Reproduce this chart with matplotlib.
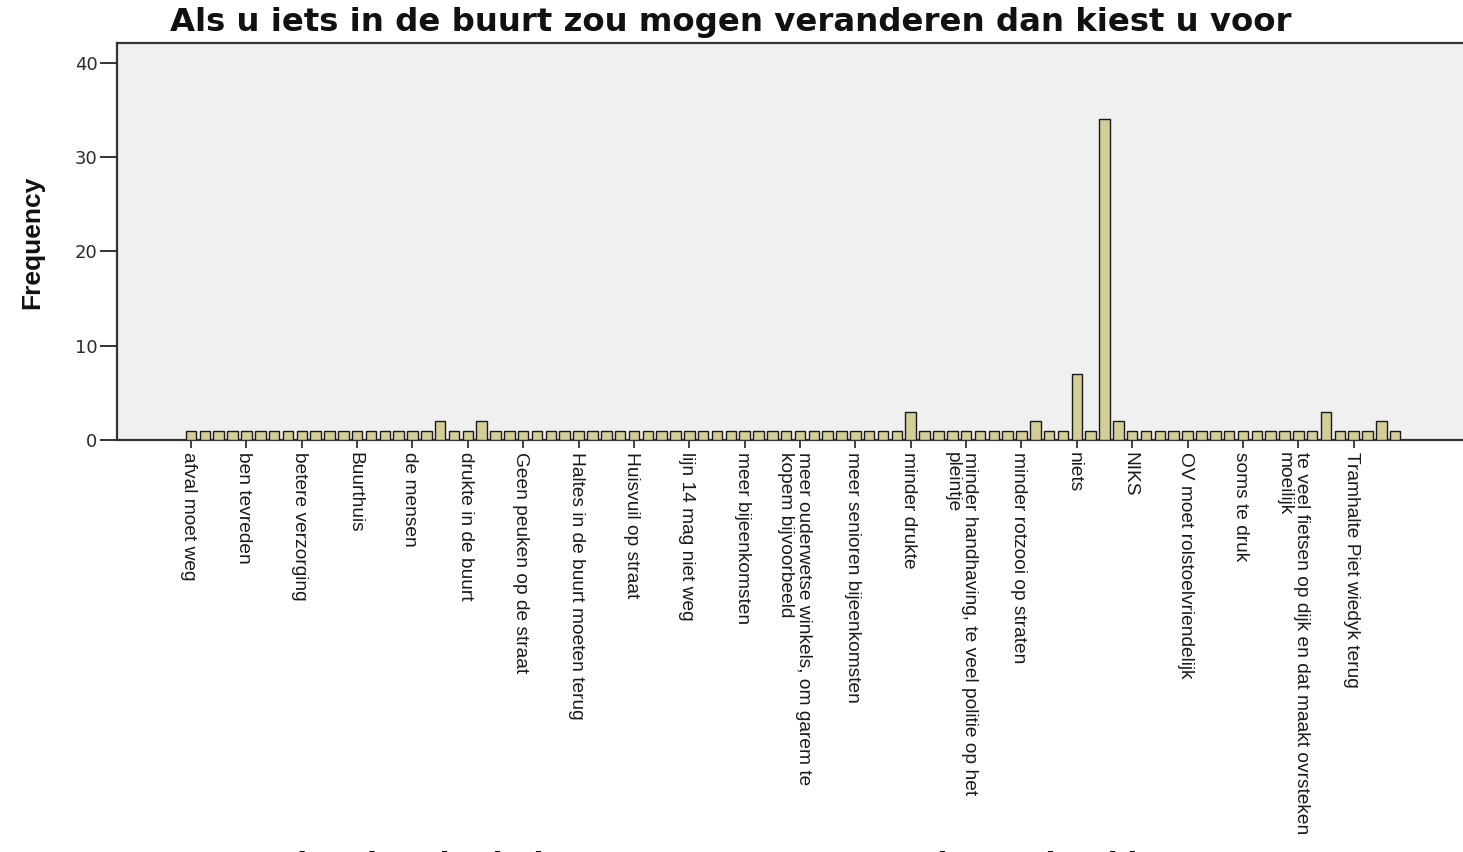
import matplotlib
matplotlib.use("Agg")
import matplotlib.pyplot as plt
from matplotlib.transforms import ScaledTranslation

title_text = "Als u iets in de buurt zou mogen veranderen dan kiest u voor"
y_label = "Frequency"

# 88 answer categories; only every 4th label is shown on the axis (as in the reference)
shown_labels = [
    "afval moet weg",
    "ben tevreden",
    "betere verzorging",
    "Buurthuis",
    "de mensen",
    "drukte in de buurt",
    "Geen peuken op de straat",
    "Haltes in de buurt moeten terug",
    "Huisvuil op straat",
    "lijn 14 mag niet weg",
    "meer bijeenkomsten",
    "meer ouderwetse winkels, om garem te\nkopem bijvoorbeeld",
    "meer senioren bijeenkomsten",
    "minder drukte",
    "minder handhaving, te veel politie op het\npleintje",
    "minder rotzooi op straten",
    "niets",
    "NIKS",
    "OV moet rolstoelvriendelijk",
    "soms te druk",
    "te veel fietsen op dijk en dat maakt ovrsteken\nmoeilijk",
    "Tramhalte Piet wiedyk terug",
]

frequencies = [
    1, 1, 1, 1, 1, 1, 1, 1, 1, 1,
    1, 1, 1, 1, 1, 1, 1, 1, 2, 1,
    1, 2, 1, 1, 1, 1, 1, 1, 1, 1,
    1, 1, 1, 1, 1, 1, 1, 1, 1, 1,
    1, 1, 1, 1, 1, 1, 1, 1, 1, 1,
    1, 1, 3, 1, 1, 1, 1, 1, 1, 1,
    1, 2, 1, 1, 7, 1, 34, 2, 1, 1,
    1, 1, 1, 1, 1, 1, 1, 1, 1, 1,
    1, 1, 3, 1, 1, 1, 2, 1,
]
label_step = 4
y_ticks = [0, 10, 20, 30, 40]

plt.rcParams["font.family"] = ["Liberation Sans", "DejaVu Sans"]

W, H, DPI = 1463, 852, 100
fig = plt.figure(figsize=(W / DPI, H / DPI), dpi=DPI)
fig.patch.set_facecolor("white")

ax = fig.add_axes([117 / W, 1 - 440 / H, 1 - 117 / W, (440 - 43) / H])
ax.set_facecolor("#F0F0F0")

x = list(range(len(frequencies)))
ax.bar(x, frequencies, width=0.76, color="#D3CE97", edgecolor="#1a1a1a",
       linewidth=1.0, zorder=3)

ax.set_xlim(-5.35, 91.9)
ax.set_ylim(0, 42.1)

for side in ["left", "bottom", "top"]:
    ax.spines[side].set_color("#333333")
    ax.spines[side].set_linewidth(1.6)
ax.spines["right"].set_visible(False)

ax.set_yticks(y_ticks)
ax.set_yticklabels([str(v) for v in y_ticks], fontsize=13, color="#2a2a2a",
                   family=["DejaVu Sans"])
ax.tick_params(axis="y", length=12, width=1.4, color="#333333", pad=2)

tick_pos = x[::label_step]
ax.set_xticks(tick_pos)
ax.set_xticklabels(shown_labels, rotation=270, fontsize=13.8, color="#1a1a1a",
                   ha="right", va="top", rotation_mode="default",
                   multialignment="left", linespacing=1.05)
ax.tick_params(axis="x", length=6, width=1.2, color="#222222", pad=3)
for lbl, txt in zip(ax.get_xticklabels(), shown_labels):
    dx = 12 if "\n" in txt else 6
    lbl.set_transform(lbl.get_transform()
                      + ScaledTranslation(dx / DPI, 0, fig.dpi_scale_trans))

fig.text(731 / W, 1 - 23 / H, title_text, ha="center", va="center",
         fontsize=23.3, fontweight="bold", color="#111111",
         family=["DejaVu Sans"])

fig.text(32 / W, 1 - 242 / H, y_label, rotation=90, ha="center", va="center",
         fontsize=19, fontweight="bold", color="#111111")

# x-axis title (cut off by the bottom edge of the image, as in the reference)
fig.text(790 / W, 1 - 851 / H, title_text, ha="center", va="top",
         fontsize=21.4, fontweight="bold", color="#111111",
         family=["DejaVu Sans"])

fig.savefig("out.png", dpi=DPI)
